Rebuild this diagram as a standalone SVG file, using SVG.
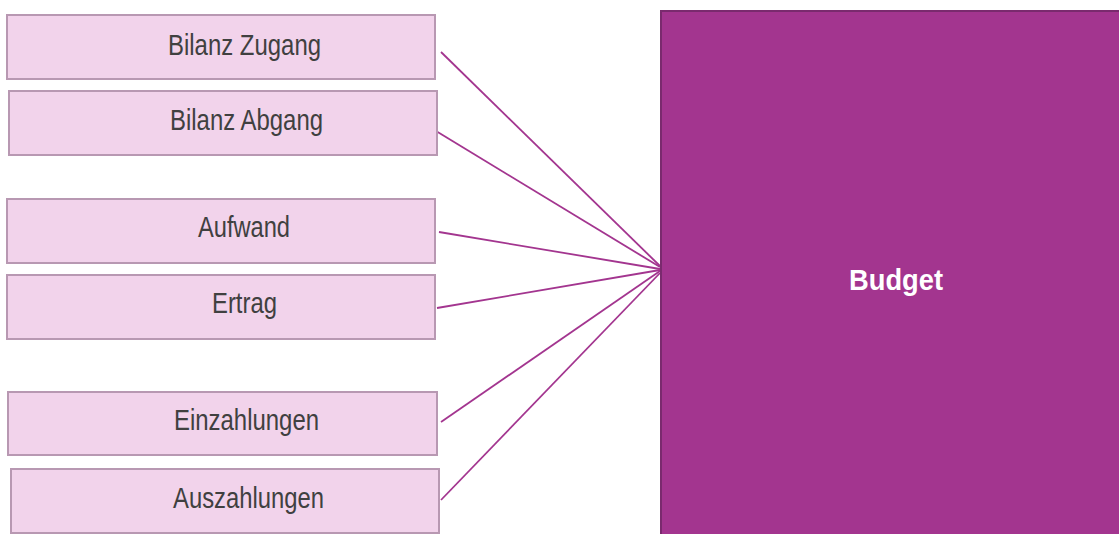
<svg xmlns="http://www.w3.org/2000/svg" width="1119" height="534" viewBox="0 0 1119 534">
  <style>
    .item rect { fill: #f2d3eb; stroke: #b898b2; stroke-width: 2; }
    .item text { font-family: "Liberation Sans", Arial, sans-serif; font-size: 29px; fill: #404040; }
    .link { stroke: #a3358f; stroke-width: 1.8; fill: none; }
    #budget rect { fill: #a3358f; stroke: #7a2a6e; stroke-width: 2; }
    #budget text { font-family: "Liberation Sans", Arial, sans-serif; font-size: 29px; font-weight: bold; fill: #ffffff; }
  </style>
  <rect width="1119" height="534" fill="#ffffff"/>

  <!-- connectors from the account categories into the budget -->
  <g id="connectors">
    <line class="link" x1="441" y1="52" x2="660" y2="266"/>
    <line class="link" x1="436" y1="131" x2="660" y2="267"/>
    <line class="link" x1="439" y1="232" x2="660" y2="269"/>
    <line class="link" x1="437" y1="308" x2="660" y2="270"/>
    <line class="link" x1="441" y1="422" x2="660" y2="271"/>
    <line class="link" x1="441" y1="500" x2="660" y2="273"/>
  </g>

  <g id="bilanz-zugang" class="item">
    <rect x="7" y="15" width="428" height="64"/>
    <text x="168" y="55" textLength="153" lengthAdjust="spacingAndGlyphs">Bilanz Zugang</text>
  </g>
  <g id="bilanz-abgang" class="item">
    <rect x="9" y="91" width="428" height="64"/>
    <text x="170" y="130" textLength="153" lengthAdjust="spacingAndGlyphs">Bilanz Abgang</text>
  </g>
  <g id="aufwand" class="item">
    <rect x="7" y="199" width="428" height="64"/>
    <text x="198" y="237" textLength="92" lengthAdjust="spacingAndGlyphs">Aufwand</text>
  </g>
  <g id="ertrag" class="item">
    <rect x="7" y="275" width="428" height="64"/>
    <text x="212" y="313" textLength="65" lengthAdjust="spacingAndGlyphs">Ertrag</text>
  </g>
  <g id="einzahlungen" class="item">
    <rect x="8" y="392" width="429" height="63"/>
    <text x="174" y="430" textLength="145" lengthAdjust="spacingAndGlyphs">Einzahlungen</text>
  </g>
  <g id="auszahlungen" class="item">
    <rect x="11" y="469" width="428" height="64"/>
    <text x="173" y="508" textLength="151" lengthAdjust="spacingAndGlyphs">Auszahlungen</text>
  </g>

  <g id="budget">
    <rect x="661" y="11" width="470" height="540"/>
    <text x="849" y="290" textLength="94" lengthAdjust="spacingAndGlyphs">Budget</text>
  </g>
</svg>
